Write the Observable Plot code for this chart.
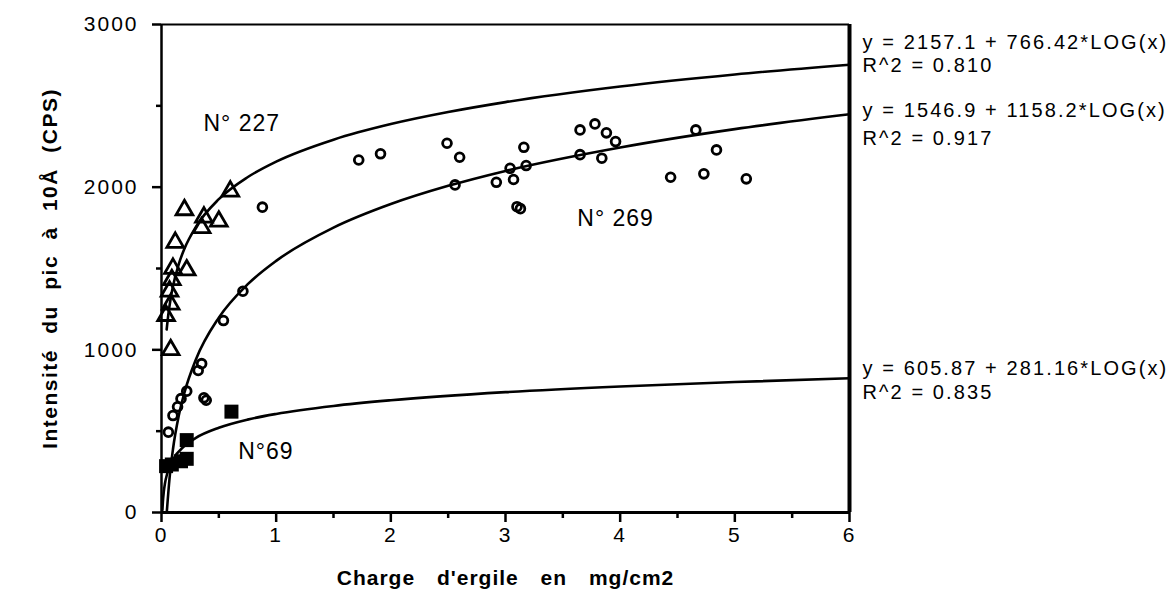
<!DOCTYPE html>
<html>
<head>
<meta charset="utf-8">
<script src="https://cdn.jsdelivr.net/npm/d3@7"></script>
<script src="https://cdn.jsdelivr.net/npm/@observablehq/plot@0.6"></script>
<style>
  html, body { margin: 0; padding: 0; background: #fff; }
</style>
</head>
<body>
<div id="chart"></div>
<script>
// ---- axis ticks ----
const xTicksMajor = [0, 1, 2, 3, 4, 5, 6];
const xTicksMinor = [0.5, 1.5, 2.5, 3.5, 4.5, 5.5];
const yTicksMajor = [0, 1000, 2000, 3000];
const yTicksMinor = [500, 1500, 2500];

// ---- N° 227 (triangles) ----
const n227X = [0.08, 0.04, 0.08, 0.07, 0.09, 0.10, 0.22, 0.12, 0.35, 0.50, 0.37, 0.20, 0.60];
const n227Y = [1000, 1210, 1280, 1360, 1430, 1500, 1490, 1660, 1750, 1790, 1815, 1860, 1975];

// ---- N° 269 (circles) ----
const n269X = [0.06, 0.10, 0.14, 0.17, 0.22, 0.32, 0.35, 0.37, 0.39, 0.54, 0.71, 0.88,
               1.72, 1.91, 2.49, 2.60, 2.56, 2.92, 3.04, 3.07, 3.16, 3.18, 3.10, 3.13,
               3.65, 3.78, 3.88, 3.96, 3.65, 3.84, 4.66, 4.84, 4.44, 4.73, 5.10];
const n269Y = [494, 596, 650, 700, 746, 873, 915, 705, 690, 1180, 1360, 1877,
               2167, 2205, 2270, 2184, 2014, 2030, 2116, 2047, 2245, 2133, 1880, 1868,
               2352, 2389, 2334, 2280, 2200, 2178, 2352, 2229, 2061, 2082, 2051];

// ---- N° 69 (filled squares) ----
const n69X = [0.04, 0.09, 0.17, 0.22, 0.22, 0.61];
const n69Y = [285, 295, 315, 330, 445, 620];

// ---- fitted curves ----
const fit227X = [0.045, 0.06, 0.08, 0.1, 0.15, 0.2, 0.3, 0.5, 0.75, 1, 1.5, 2, 2.5, 3, 4, 5, 6];
const fit227Y = [1125, 1220, 1316, 1391, 1526, 1622, 1756, 1926, 2061, 2157, 2292, 2388, 2462, 2523, 2619, 2693, 2753];
const fit269X = [0.047, 0.07, 0.1, 0.15, 0.2, 0.3, 0.5, 0.75, 1, 1.5, 2, 2.5, 3, 4, 5, 6];
const fit269Y = [10, 209, 389, 593, 737, 941, 1198, 1402, 1547, 1751, 1896, 2008, 2100, 2244, 2357, 2448];
const fit69X = [0.008, 0.012, 0.02, 0.03, 0.05, 0.1, 0.2, 0.3, 0.5, 0.75, 1, 1.5, 2, 3, 4, 5, 6];
const fit69Y = [16, 66, 128, 178, 240, 325, 409, 459, 521, 571, 606, 655, 690, 740, 775, 802, 825];

// ---- texts ----
const seriesLabels = ["N° 227", "N° 269", "N°69"];
const seriesLabelX = [0.70, 3.96, 0.91];
const seriesLabelY = [2391, 1807, 375];
const equationTexts = ["y = 2157.1 + 766.42*LOG(x)", "R^2 = 0.810",
                       "y = 1546.9 + 1158.2*LOG(x)", "R^2 = 0.917",
                       "y = 605.87 + 281.16*LOG(x)", "R^2 = 0.835"];
const equationY = [2890, 2750, 2470, 2300, 885, 740];
const xTitle = "Charge d'ergile en mg/cm2";
const yTitle = "Intensité du pic à 10Å (CPS)";

const toRows = (xs, ys) => xs.map((x, i) => ({x, y: ys[i]}));
const tri = toRows(n227X, n227Y);
const circ = toRows(n269X, n269Y);
const sq = toRows(n69X, n69Y);
const c227 = toRows(fit227X, fit227Y);
const c269 = toRows(fit269X, fit269Y);
const c69 = toRows(fit69X, fit69Y);
const lab = seriesLabels.map((t, i) => ({t, x: seriesLabelX[i], y: seriesLabelY[i]}));
const eqs = equationTexts.map((t, i) => ({t, x: 6, y: equationY[i]}));

const chart = Plot.plot({
  width: 1168,
  height: 592,
  marginLeft: 161,
  marginRight: 319,
  marginTop: 24,
  marginBottom: 80,
  style: {fontFamily: "'Liberation Sans', Arial, Helvetica, sans-serif", color: "black", background: "white"},
  x: {domain: [0, 6]},
  y: {domain: [0, 3000]},
  marks: [
    Plot.axisX({ticks: xTicksMajor, tickSize: 10, tickPadding: 5, tickFormat: d => String(d), strokeWidth: 2.5, label: null}),
    Plot.axisX({ticks: xTicksMinor, tickSize: 6, tickFormat: () => "", strokeWidth: 2.5, label: null}),
    Plot.axisY({ticks: yTicksMajor, tickSize: 9, tickPadding: 14, tickFormat: d => String(d), strokeWidth: 2.5, label: null}),
    Plot.axisY({ticks: yTicksMinor, tickSize: 5, tickFormat: () => "", strokeWidth: 2.5, label: null}),
    Plot.ruleY([0], {strokeWidth: 3}),
    Plot.ruleY([3000], {strokeWidth: 2}),
    Plot.ruleX([0], {strokeWidth: 2.5}),
    Plot.ruleX([6], {strokeWidth: 4}),
    Plot.line(c227, {x: "x", y: "y", curve: "monotone-x", strokeWidth: 2.6, stroke: "black"}),
    Plot.line(c269, {x: "x", y: "y", curve: "monotone-x", strokeWidth: 2.6, stroke: "black"}),
    Plot.line(c69, {x: "x", y: "y", curve: "monotone-x", strokeWidth: 2.6, stroke: "black"}),
    Plot.dot(tri, {x: "x", y: "y", symbol: "triangle", r: 6.2, stroke: "black", strokeWidth: 2.8, fill: "none"}),
    Plot.dot(circ, {x: "x", y: "y", symbol: "circle", r: 4.4, stroke: "black", strokeWidth: 2.8, fill: "none"}),
    Plot.dot(sq, {x: "x", y: "y", symbol: "square", r: 7.9, stroke: "none", fill: "black"}),
    Plot.text(lab, {x: "x", y: "y", text: "t", fontSize: 23, fill: "black"}),
    Plot.text(eqs, {x: "x", y: "y", text: "t", dx: 13, textAnchor: "start", fontSize: 20, fill: "black"}),
    Plot.text([xTitle], {frameAnchor: "bottom", dy: 66, lineAnchor: "middle", textAnchor: "middle", fontSize: 21, fontWeight: "bold", fill: "black"}),
    Plot.text([yTitle], {frameAnchor: "left", rotate: -90, dx: -111, lineAnchor: "middle", textAnchor: "middle", fontSize: 21, fontWeight: "bold", fill: "black"})
  ]
});

// typographic adjustments to mimic the wide scanned Helvetica
chart.querySelectorAll("text").forEach(t => {
  const s = t.textContent;
  if (equationTexts.includes(s)) {
    t.style.letterSpacing = "2.1px";
  } else if (seriesLabels.includes(s)) {
    t.style.letterSpacing = "1px";
  } else if (s === xTitle) {
    t.style.letterSpacing = "1px";
    t.style.wordSpacing = "15px";
  } else if (s === yTitle) {
    t.style.letterSpacing = "1.5px";
    t.style.wordSpacing = "8px";
  } else if (/^\d+$/.test(s)) {
    t.style.fontSize = "21px";
    t.style.letterSpacing = "2px";
  }
});

document.getElementById("chart").appendChild(chart);
</script>
</body>
</html>
